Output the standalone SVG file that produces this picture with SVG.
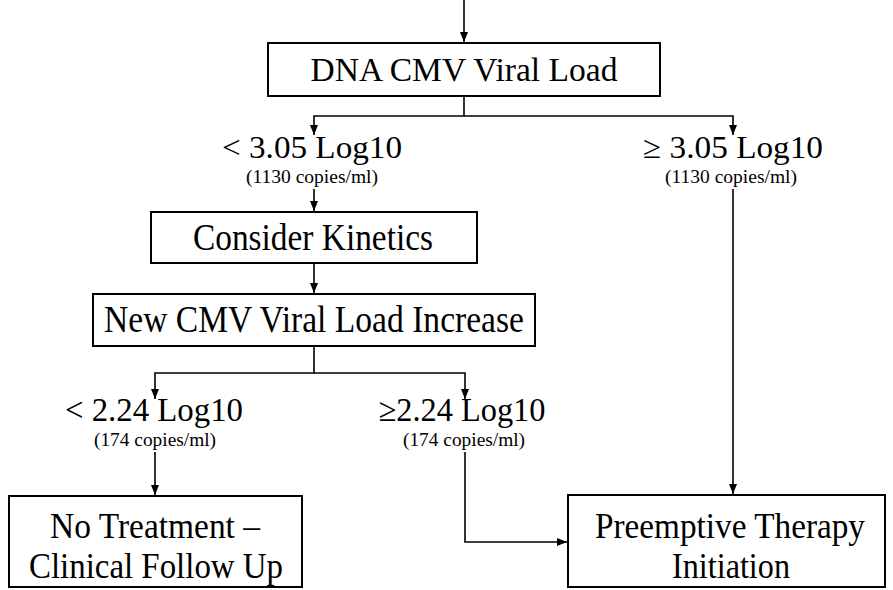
<svg xmlns="http://www.w3.org/2000/svg" width="893" height="590" viewBox="0 0 893 590">
<defs>
<style>
.box{fill:#fff;stroke:#000;stroke-width:2}
.t{font-family:"Liberation Serif","Times New Roman",serif;fill:#000;text-anchor:middle}
.big{font-size:34px}
.lab{font-size:32px}
.sm{font-size:19px}
.bot{font-size:36px}
.con{fill:none;stroke:#000;stroke-width:1.6}
</style>
<marker id="ah" markerWidth="10" markerHeight="12" refX="10" refY="5" orient="auto" markerUnits="userSpaceOnUse" viewBox="0 0 10 10">
<path d="M0,1 L10,5 L0,9 Z" fill="#000"/>
</marker>
</defs>
<rect width="893" height="590" fill="#fff"/>
<g id="connectors">
<path class="con" d="M464,0 V42" marker-end="url(#ah)"/>
<path class="con" d="M464,96 V116 H314 V135" marker-end="url(#ah)"/>
<path class="con" d="M464,116 H733 V135" marker-end="url(#ah)"/>
<path class="con" d="M314,189 V211" marker-end="url(#ah)"/>
<path class="con" d="M733,189 V494" marker-end="url(#ah)"/>
<path class="con" d="M314,263 V293" marker-end="url(#ah)"/>
<path class="con" d="M314,346 V373 H155 V399" marker-end="url(#ah)"/>
<path class="con" d="M314,373 H465 V399" marker-end="url(#ah)"/>
<path class="con" d="M155,452 V495" marker-end="url(#ah)"/>
<path class="con" d="M465,452 V542 H567" marker-end="url(#ah)"/>
</g>
<g id="dna">
<rect class="box" x="268" y="43" width="392" height="53"/>
<text class="t big" x="464" y="81" textLength="307" lengthAdjust="spacingAndGlyphs">DNA CMV Viral Load</text>
</g>
<g id="lt305">
<text class="t lab" x="312" y="158" textLength="180" lengthAdjust="spacingAndGlyphs">&lt; 3.05 Log10</text>
<text class="t sm" x="312" y="183" textLength="132" lengthAdjust="spacingAndGlyphs">(1130 copies/ml)</text>
</g>
<g id="ge305">
<text class="t lab" x="733" y="158" textLength="180" lengthAdjust="spacingAndGlyphs">≥ 3.05 Log10</text>
<text class="t sm" x="731" y="183" textLength="132" lengthAdjust="spacingAndGlyphs">(1130 copies/ml)</text>
</g>
<g id="kinetics">
<rect class="box" x="151" y="212" width="326" height="51"/>
<text class="t" style="font-size:37px" x="313" y="250" textLength="240" lengthAdjust="spacingAndGlyphs">Consider Kinetics</text>
</g>
<g id="increase">
<rect class="box" x="93" y="294" width="442" height="52"/>
<text class="t" style="font-size:37px" x="314" y="332" textLength="420" lengthAdjust="spacingAndGlyphs">New CMV Viral Load Increase</text>
</g>
<g id="lt224">
<text class="t" style="font-size:33px" x="154" y="421" textLength="178" lengthAdjust="spacingAndGlyphs">&lt; 2.24 Log10</text>
<text class="t sm" x="155" y="446" textLength="122" lengthAdjust="spacingAndGlyphs">(174 copies/ml)</text>
</g>
<g id="ge224">
<text class="t" style="font-size:33px" x="462" y="421" textLength="167" lengthAdjust="spacingAndGlyphs">≥2.24 Log10</text>
<text class="t sm" x="464" y="446" textLength="122" lengthAdjust="spacingAndGlyphs">(174 copies/ml)</text>
</g>
<g id="notreatment">
<rect class="box" x="9" y="496" width="293" height="91"/>
<text class="t bot" x="155" y="538" textLength="210" lengthAdjust="spacingAndGlyphs">No Treatment –</text>
<text class="t bot" x="156" y="578" textLength="254" lengthAdjust="spacingAndGlyphs">Clinical Follow Up</text>
</g>
<g id="preemptive">
<rect class="box" x="568" y="495" width="317" height="92"/>
<text class="t bot" x="730" y="538" textLength="270" lengthAdjust="spacingAndGlyphs">Preemptive Therapy</text>
<text class="t bot" x="731" y="578" textLength="118" lengthAdjust="spacingAndGlyphs">Initiation</text>
</g>
</svg>
